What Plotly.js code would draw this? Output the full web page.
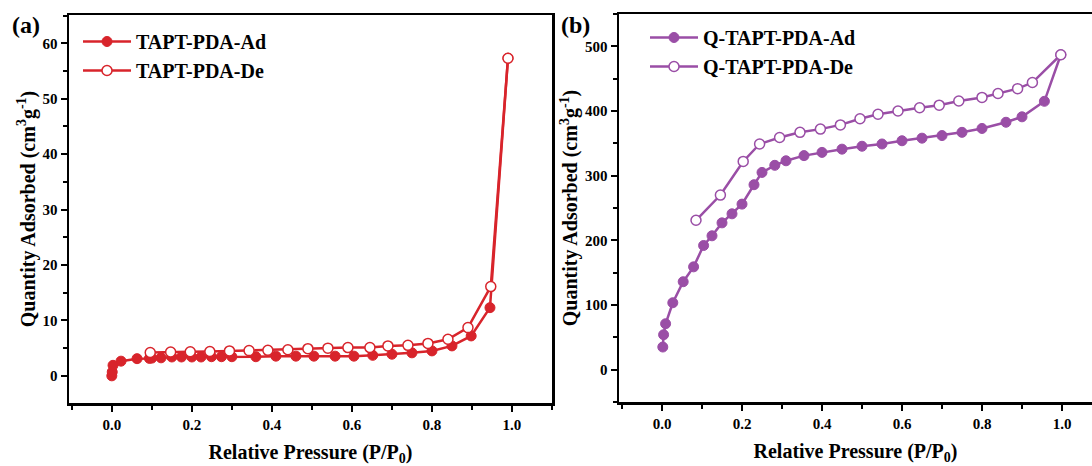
<!DOCTYPE html>
<html>
<head>
<meta charset="utf-8">
<script src="https://cdn.plot.ly/plotly-3.0.1.min.js"></script>
<style>html,body{margin:0;padding:0;background:#fff;}#chart{width:1092px;height:466px;}</style>
</head>
<body>
<div id="chart"></div>
<script>
// Panel (a) TAPT-PDA
const aAdX = [0.0, 0.001, 0.003, 0.023, 0.063, 0.094, 0.1, 0.123, 0.15, 0.174, 0.2, 0.223, 0.249, 0.274, 0.3, 0.36, 0.41, 0.46, 0.505, 0.558, 0.605, 0.652, 0.70, 0.75, 0.80, 0.85, 0.898, 0.945, 0.99];
const aAdY = [0.0, 0.7, 1.9, 2.65, 3.1, 3.15, 3.2, 3.25, 3.4, 3.4, 3.4, 3.4, 3.45, 3.45, 3.45, 3.45, 3.55, 3.55, 3.55, 3.55, 3.55, 3.7, 3.9, 4.15, 4.5, 5.4, 7.2, 12.3, 57.3];
const aDeX = [0.99, 0.947, 0.89, 0.84, 0.79, 0.74, 0.69, 0.645, 0.59, 0.54, 0.49, 0.44, 0.39, 0.343, 0.294, 0.245, 0.196, 0.147, 0.096];
const aDeY = [57.3, 16.1, 8.7, 6.6, 5.85, 5.5, 5.4, 5.1, 5.1, 5.0, 4.9, 4.7, 4.6, 4.55, 4.5, 4.4, 4.35, 4.3, 4.2];

// Panel (b) Q-TAPT-PDA
const bAdX = [0.002, 0.004, 0.009, 0.027, 0.053, 0.079, 0.104, 0.125, 0.15, 0.175, 0.2, 0.23, 0.25, 0.282, 0.31, 0.355, 0.40, 0.45, 0.50, 0.55, 0.60, 0.65, 0.70, 0.75, 0.80, 0.86, 0.90, 0.956, 0.997];
const bAdY = [35, 54, 71, 103.5, 136, 159, 192, 207, 227, 241, 256, 286, 305, 316, 323, 331, 336, 341, 345.5, 349, 354, 358, 362, 367, 373, 382.6, 391, 415, 487];
const bDeX = [0.997, 0.926, 0.889, 0.84, 0.80, 0.742, 0.693, 0.644, 0.59, 0.54, 0.495, 0.446, 0.396, 0.345, 0.294, 0.244, 0.203, 0.146, 0.085];
const bDeY = [487, 444, 434.6, 427, 421, 415.5, 409, 405, 400, 395, 388, 378.5, 372, 367, 359, 349, 322, 270, 231];

const names = ['TAPT-PDA-Ad', 'TAPT-PDA-De', 'Q-TAPT-PDA-Ad', 'Q-TAPT-PDA-De'];
const xTitle = '<b>Relative Pressure (P/P<sub>0</sub>)</b>';
const yTitle = '<b>Quantity Adsorbed (cm<sup>3</sup>g<sup>-1</sup>)</b>';
const panelLabels = ['<b>(a)</b>', '<b>(b)</b>'];

const RED = '#d8242b';
const PUR = '#9a4ea6';
const FONT = 'Liberation Serif';

function font(size) { return {family: FONT, size: size, color: '#000', weight: 'bold'}; }

function trace(x, y, name, color, filled, xa, ya, lg) {
  return {
    x: x, y: y, name: '<b>' + name + '</b>', type: 'scatter', mode: 'lines+markers',
    xaxis: xa, yaxis: ya, legend: lg,
    line: {color: color, width: 2.5},
    marker: filled
      ? {symbol: 'circle', size: 10, color: color, line: {color: color, width: 1}}
      : {symbol: 'circle', size: 10, color: '#ffffff', line: {color: color, width: 1.5}}
  };
}

const data = [
  trace(aAdX, aAdY, names[0], RED, true, 'x', 'y', 'legend'),
  trace(aDeX, aDeY, names[1], RED, false, 'x', 'y', 'legend'),
  trace(bAdX, bAdY, names[2], PUR, true, 'x2', 'y2', 'legend2'),
  trace(bDeX, bDeY, names[3], PUR, false, 'x2', 'y2', 'legend2')
];

function xaxis(domain, range, anchor, mirror) {
  return {
    domain: domain, range: range, anchor: anchor,
    showline: true, linecolor: '#000', linewidth: 2.5, mirror: mirror,
    showgrid: false, zeroline: false,
    ticks: 'outside', ticklen: 6, tickwidth: 2, tickcolor: '#000',
    tick0: 0, dtick: 0.2, tickformat: '.1f', tickfont: font(15),
    minor: {dtick: 0.1, tick0: 0, ticks: 'outside', ticklen: 4, tickwidth: 2, tickcolor: '#000', showgrid: false},
    title: {text: xTitle, font: font(20), standoff: 14}
  };
}
function yaxis(domain, range, anchor, dtick, mirror) {
  return {
    domain: domain, range: range, anchor: anchor,
    showline: true, linecolor: '#000', linewidth: 2.5, mirror: mirror,
    showgrid: false, zeroline: false,
    ticks: 'outside', ticklen: 6, tickwidth: 2, tickcolor: '#000',
    tick0: 0, dtick: dtick, tickfont: font(15),
    minor: {dtick: dtick / 2, tick0: 0, ticks: 'outside', ticklen: 4, tickwidth: 2, tickcolor: '#000', showgrid: false},
    title: {text: yTitle, font: font(20), standoff: 2}
  };
}

const layout = {
  width: 1092, height: 466,
  margin: {l: 0, r: 0, t: 0, b: 0},
  paper_bgcolor: '#fff', plot_bgcolor: '#fff',
  font: font(15),
  showlegend: true,
  xaxis: xaxis([69/1092, 552/1092], [-0.107, 1.1], 'y', true),
  yaxis: yaxis([1 - 403/466, 1 - 15/466], [-4.9, 65.1], 'x', 10, true),
  xaxis2: xaxis([619/1092, 1], [-0.1075, 1.075], 'y2', true),
  yaxis2: yaxis([1 - 402/466, 1 - 14/466], [-50, 550], 'x2', 100, false),
  legend: {x: 78/1092, y: 1 - 22/466, xanchor: 'left', yanchor: 'top', bgcolor: 'rgba(0,0,0,0)', borderwidth: 0, font: font(20), itemwidth: 48, tracegroupgap: 0},
  legend2: {x: 645/1092, y: 1 - 18/466, xanchor: 'left', yanchor: 'top', bgcolor: 'rgba(0,0,0,0)', borderwidth: 0, font: font(20), itemwidth: 48, tracegroupgap: 0},
  annotations: [
    {text: panelLabels[0], xref: 'paper', yref: 'paper', x: 26/1092, y: 1 - 25/466, xanchor: 'center', yanchor: 'middle', showarrow: false, font: font(24)},
    {text: panelLabels[1], xref: 'paper', yref: 'paper', x: 575/1092, y: 1 - 25/466, xanchor: 'center', yanchor: 'middle', showarrow: false, font: font(24)}
  ]
};

Plotly.newPlot('chart', data, layout, {displayModeBar: false, staticPlot: true});
</script>
</body>
</html>
